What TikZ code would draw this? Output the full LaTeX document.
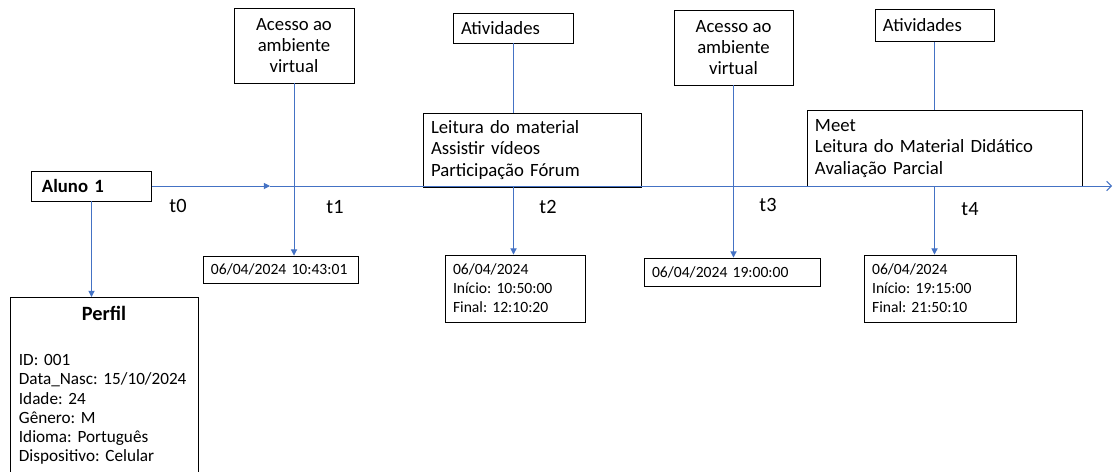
\documentclass[tikz,border=0pt]{standalone}
\usepackage{fontspec}
\setmainfont{Carlito}
\usetikzlibrary{arrows.meta,positioning,calc}
\definecolor{azul}{HTML}{4472C4}
\frenchspacing

\begin{document}
\begin{tikzpicture}[x=0.0225cm,y=-0.0225cm,
    caixa/.style={draw,black,line width=0.6pt,inner sep=0pt},
    esq/.style={caixa,align=left,inner xsep=0.18cm},
    linha/.style={draw=azul,line width=0.6pt},
    seta/.style={linha,-{Triangle[length=4pt,width=4pt]}},
    rotulo/.style={font=\fontsize{13}{15}\selectfont}]
    \useasboundingbox (0,0) rectangle (1113,471);

    %%%% Aluno and profile ===========================
    \node[caixa,align=left,inner xsep=0.225cm,text width=2.23cm,minimum height=0.675cm,font=\fontsize{12}{14}\selectfont\bfseries] (aluno) at (91.5,186) {Aluno 1};
    \node[caixa,anchor=north,align=left,inner xsep=0.2cm,inner ysep=0.2cm,text width=3.83cm,font=\fontsize{11}{12.3}\selectfont] (perfil) at (104,297)
        {\makebox[3.83cm]{\fontsize{13}{15}\selectfont\bfseries Perfil}\\[16.5pt]
         ID: 001\\ Data\_Nasc: 15/10/2024\\ Idade: 24\\ Gênero: M\\ Idioma: Português\\ Dispositivo: Celular\\[16pt]};

    %%%% Access boxes ================================
    \node[caixa,align=center,minimum width=2.7cm,minimum height=1.6875cm,font=\fontsize{12}{13.4}\selectfont] (acesso1) at (294,45.5) {Acesso ao\\ambiente\\virtual};
    \node[caixa,align=center,minimum width=2.68cm,minimum height=1.6875cm,font=\fontsize{12}{13.4}\selectfont] (acesso2) at (733.5,47.5) {Acesso ao\\ambiente\\virtual};

    % Activities
    \node[esq,text width=2.36cm,minimum height=0.675cm,font=\fontsize{12}{13.4}\selectfont] (ativ1) at (513.5,28) {Atividades};
    \node[esq,text width=2.32cm,minimum height=0.7cm,font=\fontsize{12}{13.4}\selectfont] (ativ2) at (934.5,25.5) {Atividades};
    \node[esq,text width=4.545cm,minimum height=1.665cm,font=\fontsize{12}{13.7}\selectfont] (leit1) at (532,150) {Leitura do material\\Assistir vídeos\\Participação Fórum};
    \node[esq,text width=5.83cm,minimum height=1.69cm,font=\fontsize{12}{13.7}\selectfont] (leit2) at (944.5,148.5) {Meet\\Leitura do Material Didático\\Avaliação Parcial};

    % Dates
    \node[esq,text width=3.13cm,minimum height=0.6075cm,font=\fontsize{10}{12.2}\selectfont] (data1) at (280.5,269.5) {06/04/2024 10:43:01};
    \node[esq,text width=2.79cm,minimum height=1.5075cm,font=\fontsize{10}{12.2}\selectfont] (data2) at (515,288.5) {06/04/2024\\Início: 10:50:00\\Final: 12:10:20};
    \node[esq,text width=3.6cm,minimum height=0.63cm,font=\fontsize{10}{12.2}\selectfont] (data3) at (732,272) {06/04/2024 19:00:00};
    \node[esq,text width=3.08cm,minimum height=1.5075cm,font=\fontsize{10}{12.2}\selectfont] (data4) at (940.5,288.5) {06/04/2024\\Início: 19:15:00\\Final: 21:50:10};

    % Time labels
    \node[rotulo] (t0) at (178,206) {t0};
    \node[rotulo] (t1) at (335,207) {t1};
    \node[rotulo] (t2) at (548,207) {t2};
    \node[rotulo] (t3) at (768,205) {t3};
    \node[rotulo] (t4) at (970,209) {t4};

    %%%% Arcs ========================================
    \coordinate (meio) at (270,186);
    \coordinate (fim) at (1112,186);
    \draw[seta] (aluno.east) -- (meio);
    \draw[linha,-{Straight Barb[length=3pt,width=6pt]}] (meio) -- (fim);
    \draw[seta] (aluno.south) -- (aluno.south |- perfil.north);
    \draw[seta] (acesso1.south) -- (acesso1.south |- data1.north);
    \draw[seta] (acesso2.south) -- (acesso2.south |- data3.north);
    \draw[linha] (ativ1.south) -- (ativ1.south |- leit1.north);
    \draw[seta] (ativ1.south |- leit1.south) -- (ativ1.south |- data2.north);
    \draw[linha] (ativ2.south) -- (ativ2.south |- leit2.north);
    \draw[seta] (ativ2.south |- leit2.south) -- (ativ2.south |- data4.north);
\end{tikzpicture}
\end{document}
